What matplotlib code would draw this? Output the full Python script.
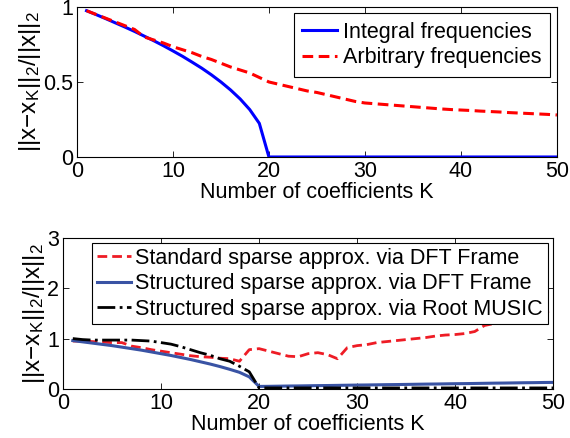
import matplotlib
matplotlib.use("Agg")
import matplotlib.pyplot as plt
import matplotlib.ticker as ticker

plt.rcParams['font.family'] = ['Liberation Sans', 'DejaVu Sans']
plt.rcParams['mathtext.default'] = 'regular'

# number of coefficients K
K = list(range(1, 51))

# top panel
integral_freq = [0.975, 0.949, 0.922, 0.894, 0.866, 0.837, 0.806, 0.775, 0.742, 0.707,
                 0.671, 0.632, 0.592, 0.548, 0.500, 0.447, 0.387, 0.316, 0.224, 0.0,
                 0, 0, 0, 0, 0, 0, 0, 0, 0, 0,
                 0, 0, 0, 0, 0, 0, 0, 0, 0, 0,
                 0, 0, 0, 0, 0, 0, 0, 0, 0, 0]
arbitrary_freq = [0.975, 0.95, 0.925, 0.9, 0.875, 0.85, 0.8, 0.78, 0.76, 0.735,
                  0.715, 0.695, 0.67, 0.65, 0.625, 0.6, 0.58, 0.56, 0.53, 0.5,
                  0.485, 0.47, 0.455, 0.44, 0.43, 0.415, 0.4, 0.385, 0.37, 0.36,
                  0.355, 0.35, 0.345, 0.34, 0.335, 0.33, 0.325, 0.32, 0.316, 0.313,
                  0.31, 0.306, 0.303, 0.3, 0.296, 0.293, 0.29, 0.287, 0.284, 0.28]

# bottom panel
standard_dft = [0.95, 0.95, 0.94, 0.93, 0.92, 0.92, 0.85, 0.82, 0.78, 0.75,
                0.72, 0.69, 0.66, 0.64, 0.63, 0.61, 0.6, 0.55, 0.78, 0.8,
                0.75, 0.7, 0.65, 0.64, 0.7, 0.72, 0.68, 0.6, 0.82, 0.86,
                0.88, 0.92, 0.94, 0.96, 0.98, 1.0, 1.02, 1.05, 1.07, 1.08,
                1.1, 1.14, 1.26, 1.3, 1.35, 1.4, 1.45, 1.5, 1.53, 1.55]
structured_dft = [0.96, 0.935, 0.91, 0.885, 0.86, 0.83, 0.8, 0.77, 0.735, 0.70,
                  0.665, 0.625, 0.585, 0.54, 0.495, 0.445, 0.39, 0.33, 0.24, 0.05,
                  0.052, 0.055, 0.058, 0.06, 0.063, 0.066, 0.068, 0.071, 0.074, 0.077,
                  0.079, 0.082, 0.085, 0.087, 0.09, 0.093, 0.096, 0.098, 0.101, 0.104,
                  0.106, 0.109, 0.112, 0.115, 0.117, 0.12, 0.123, 0.125, 0.128, 0.13]
root_music = [1.0, 0.98, 0.97, 0.97, 0.97, 0.97, 0.97, 0.96, 0.95, 0.92,
              0.89, 0.84, 0.78, 0.72, 0.67, 0.6, 0.55, 0.45, 0.34, 0.02,
              0.02, 0.02, 0.02, 0.02, 0.02, 0.02, 0.02, 0.02, 0.02, 0.02,
              0.02, 0.02, 0.02, 0.02, 0.02, 0.02, 0.02, 0.02, 0.02, 0.02,
              0.02, 0.02, 0.02, 0.02, 0.02, 0.02, 0.02, 0.02, 0.02, 0.02]

ylab = r'$||x{-}x_K||_2/||x||_2$'
fs = 15.5

fig = plt.figure(figsize=(5.7, 4.38), dpi=100)
ax1 = fig.add_axes([0.135, 0.6416, 0.842, 0.3425])
ax2 = fig.add_axes([0.1105, 0.112, 0.860, 0.345])

# top panel
ax1.plot(K, integral_freq, color='#0000ff', lw=2.2, label='Integral frequencies')
ax1.plot(K, arbitrary_freq, '--', color='#ff0000', lw=2.2, dashes=(3.5, 1.8), label='Arbitrary frequencies')
ax1.set_xlim(0, 50)
ax1.set_ylim(0, 1)
ax1.yaxis.set_major_locator(ticker.FixedLocator([0, 0.5, 1]))
ax1.yaxis.set_major_formatter(ticker.FixedFormatter(['0', '0.5', '1']))
leg1 = ax1.legend(loc='upper right', fontsize=fs, handlelength=1.6, borderpad=0.4,
                  labelspacing=0.2, handletextpad=0.3, borderaxespad=0.3,
                  fancybox=False, framealpha=1, edgecolor='black')
leg1.get_frame().set_linewidth(0.8)

# bottom panel
ax2.plot(K, standard_dft, '--', color='#ee1c25', lw=2.0, dashes=(3.5, 1.8),
         label='Standard sparse approx. via DFT Frame')
ax2.plot(K, structured_dft, color='#3953a4', lw=2.2,
         label='Structured sparse approx. via DFT Frame')
ax2.plot(K, root_music, '-.', color='black', lw=2.0,
         label='Structured sparse approx. via Root MUSIC')
ax2.set_xlim(0, 50)
ax2.set_ylim(0, 3)
ax2.yaxis.set_major_locator(ticker.MultipleLocator(1))
leg2 = ax2.legend(loc='upper right', fontsize=fs, handlelength=1.6, borderpad=0.22,
                  labelspacing=0.2, handletextpad=0.2, borderaxespad=0.25,
                  fancybox=False, framealpha=1, edgecolor='black')
leg2.get_frame().set_linewidth(0.8)

for ax in (ax1, ax2):
    ax.xaxis.set_major_locator(ticker.MultipleLocator(10))
    ax.tick_params(direction='in', top=True, right=True, labelsize=fs, length=4, width=0.6, pad=3)
    ax.set_xlabel('Number of coefficients K', fontsize=fs, labelpad=0)
    ax.set_ylabel(ylab, fontsize=17.5, labelpad=0)
    for s in ax.spines.values():
        s.set_linewidth(0.8)

fig.savefig('out.png', dpi=100)
